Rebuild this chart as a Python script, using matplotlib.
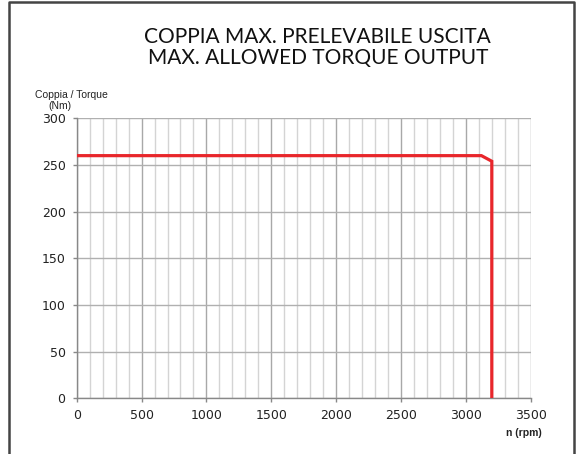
import numpy as np
import matplotlib.pyplot as plt

# torque curve
speed_rpm = [0, 3120, 3200, 3200]
torque_nm = [260, 260, 254, 0]

x_ticks = [0, 500, 1000, 1500, 2000, 2500, 3000, 3500]
y_ticks = [0, 50, 100, 150, 200, 250, 300]

title_lines = ["COPPIA MAX. PRELEVABILE USCITA", "MAX. ALLOWED TORQUE OUTPUT"]

fig = plt.figure(figsize=(5.79, 4.54), dpi=100)
ax = fig.add_axes([0.1325, 0.1227, 0.7841, 0.6167])

# thin grid every 100 rpm, heavier every 500
for xv in np.arange(0, 3501, 100):
    if xv % 500 == 0:
        ax.axvline(xv, color='#a8a8a8', lw=1.0, zorder=1)
    else:
        ax.axvline(xv, color='#d4d4d4', lw=1.0, zorder=1)
for yv in y_ticks:
    ax.axhline(yv, color='#b0b0b0', lw=1.0, zorder=1)

ax.plot(speed_rpm, torque_nm, color='#e8262b', lw=2.3, solid_joinstyle='miter', zorder=3)

ax.set_xlim(0, 3500)
ax.set_ylim(0, 300)
ax.set_xticks(x_ticks)
ax.set_yticks(y_ticks)
ax.tick_params(direction='out', length=3, width=1, color='#888888',
               labelsize=9, labelcolor='#222222', pad=5)
for s in ['top', 'right']:
    ax.spines[s].set_visible(False)
for s in ['left', 'bottom']:
    ax.spines[s].set_color('#888888')
    ax.spines[s].set_linewidth(1.0)

fig.text(0.549, 0.918, title_lines[0], ha='center', va='center', fontsize=15,
         family='Lato', color='#111111')
fig.text(0.549, 0.873, title_lines[1], ha='center', va='center', fontsize=15,
         family='Lato', color='#111111')

fig.text(0.124, 0.790, "Coppia / Torque", ha='center', va='center', fontsize=7.5,
         family='Liberation Sans', color='#222222')
fig.text(0.104, 0.766, "(Nm)", ha='center', va='center', fontsize=7.5,
         family='Liberation Sans', color='#222222')
fig.text(0.904, 0.046, "n (rpm)", ha='center', va='center', fontsize=7.5,
         fontweight='bold', family='Liberation Sans', color='#222222')

# outer frame (open at the bottom)
fig.add_artist(plt.Line2D([0.016, 0.016, 0.992, 0.992], [0.0, 0.995, 0.995, 0.0],
                          transform=fig.transFigure, color='#444444', lw=1.8))

plt.savefig('out.png', dpi=100)
